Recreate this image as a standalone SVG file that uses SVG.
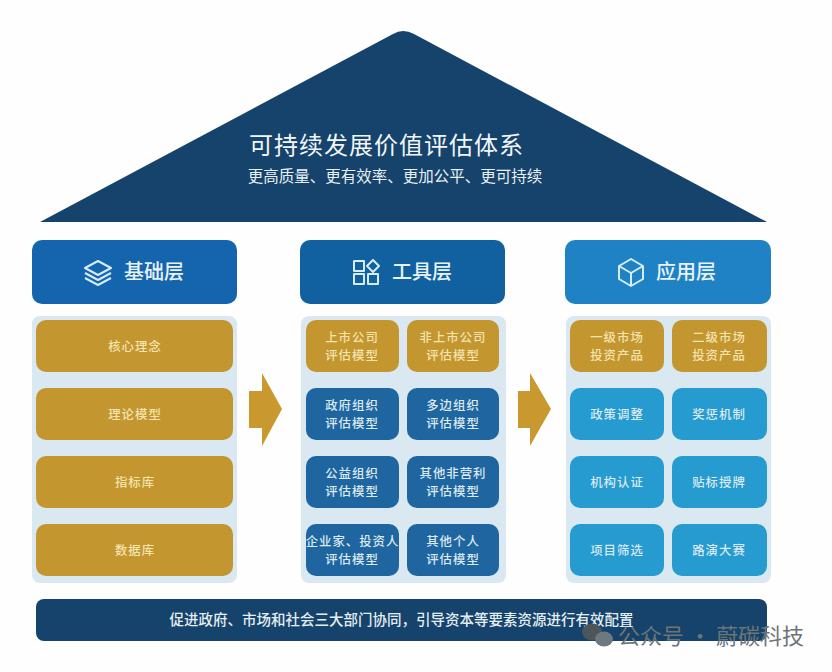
<svg xmlns="http://www.w3.org/2000/svg" width="832" height="672" viewBox="0 0 832 672">
<style>
text{font-family:"Noto Sans CJK SC","Noto Sans",sans-serif;text-anchor:middle}
.g{fill:#c4962f}.d{fill:#1f659f}.l{fill:#259bcf}
.t{fill:#f3e3b0;font-size:12.4px;letter-spacing:1px;font-weight:500}.u{fill:#dbe9f2;font-size:12.4px;letter-spacing:1px;font-weight:500}
.h{fill:#e8f3f8;font-size:20px;font-weight:500;text-anchor:start}
.p{fill:#d9e8f1}
.i{fill:none;stroke:#d6edf5;stroke-width:2;stroke-linejoin:round}
.a{fill:#c9992f}
</style>
<rect width="832" height="672" fill="#fefefe"/>
<g id="roof">
<path d="M40 222 L393 34 Q403 28 414 34 L767 222 Z" fill="#15436b"/>
<text x="386.500" y="154" font-size="24" fill="#f2f6f8" letter-spacing="1">可持续发展价值评估体系</text>
<text x="395" y="182" font-size="15.500" fill="#e8eff3">更高质量、更有效率、更加公平、更可持续</text>
</g>
<g id="panels">
<rect class="p" x="32" y="316" width="205" height="267" rx="8"/>
<rect class="p" x="301" y="316" width="205" height="267" rx="8"/>
<rect class="p" x="566" y="316" width="205" height="267" rx="8"/>
</g>
<g id="header-foundation">
<rect x="32" y="240" width="205" height="64" rx="10" fill="#1465ae"/>
<g class="i" stroke-width="1.8"><path d="M98 261 L111 268 L98 275 L85 268 Z"/><path d="M85 273 L98 280 L111 273"/><path d="M85 278 L98 285 L111 278"/></g>
<text class="h" x="124" y="279">基础层</text>
</g>
<g id="header-tools">
<rect x="300" y="240" width="205" height="64" rx="10" fill="#11609f"/>
<g class="i"><rect x="354" y="261" width="10" height="10"/><path d="M373 260 L379 266 L373 272 L367 266 Z"/><rect x="354" y="274" width="10" height="10"/><rect x="368" y="274" width="10" height="10"/></g>
<text class="h" x="392" y="279">工具层</text>
</g>
<g id="header-application">
<rect x="565" y="240" width="206" height="64" rx="10" fill="#1f82c4"/>
<g class="i"><path d="M631 259 L643 266 L643 279 L631 286 L619 279 L619 266 Z"/><path d="M619 266 L631 273 L643 266 M631 273 L631 286"/></g>
<text class="h" x="656" y="279">应用层</text>
</g>
<g id="n-core"><rect class="g" x="36" y="320" width="197" height="52" rx="10"/><text class="t" x="135" y="351">核心理念</text></g>
<g id="n-theory"><rect class="g" x="36" y="388" width="197" height="52" rx="10"/><text class="t" x="135" y="419">理论模型</text></g>
<g id="n-index"><rect class="g" x="36" y="456" width="197" height="52" rx="10"/><text class="t" x="135" y="487">指标库</text></g>
<g id="n-data"><rect class="g" x="36" y="524" width="197" height="52" rx="10"/><text class="t" x="135" y="555">数据库</text></g>
<g id="n-t1"><rect class="g" x="306" y="320" width="93" height="52" rx="10"/><text class="t" x="352" y="342">上市公司</text><text class="t" x="352" y="360">评估模型</text></g>
<g id="n-t2"><rect class="g" x="407" y="320" width="92" height="52" rx="10"/><text class="t" x="453" y="342">非上市公司</text><text class="t" x="453" y="360">评估模型</text></g>
<g id="n-t3"><rect class="d" x="306" y="388" width="93" height="52" rx="10"/><text class="u" x="352" y="410">政府组织</text><text class="u" x="352" y="428">评估模型</text></g>
<g id="n-t4"><rect class="d" x="407" y="388" width="92" height="52" rx="10"/><text class="u" x="453" y="410">多边组织</text><text class="u" x="453" y="428">评估模型</text></g>
<g id="n-t5"><rect class="d" x="306" y="456" width="93" height="52" rx="10"/><text class="u" x="352" y="478">公益组织</text><text class="u" x="352" y="496">评估模型</text></g>
<g id="n-t6"><rect class="d" x="407" y="456" width="92" height="52" rx="10"/><text class="u" x="453" y="478">其他非营利</text><text class="u" x="453" y="496">评估模型</text></g>
<g id="n-t7"><rect class="d" x="306" y="524" width="93" height="52" rx="10"/><text class="u" x="352.500" y="546">企业家、投资人</text><text class="u" x="352" y="564">评估模型</text></g>
<g id="n-t8"><rect class="d" x="407" y="524" width="92" height="52" rx="10"/><text class="u" x="453" y="546">其他个人</text><text class="u" x="453" y="564">评估模型</text></g>
<g id="n-a1"><rect class="g" x="570" y="320" width="94" height="52" rx="10"/><text class="t" x="617" y="342">一级市场</text><text class="t" x="617" y="360">投资产品</text></g>
<g id="n-a2"><rect class="g" x="672" y="320" width="95" height="52" rx="10"/><text class="t" x="719" y="342">二级市场</text><text class="t" x="719" y="360">投资产品</text></g>
<g id="n-a3"><rect class="l" x="570" y="388" width="94" height="52" rx="10"/><text class="u" x="617" y="419">政策调整</text></g>
<g id="n-a4"><rect class="l" x="672" y="388" width="95" height="52" rx="10"/><text class="u" x="719" y="419">奖惩机制</text></g>
<g id="n-a5"><rect class="l" x="570" y="456" width="94" height="52" rx="10"/><text class="u" x="617" y="487">机构认证</text></g>
<g id="n-a6"><rect class="l" x="672" y="456" width="95" height="52" rx="10"/><text class="u" x="719" y="487">贴标授牌</text></g>
<g id="n-a7"><rect class="l" x="570" y="524" width="94" height="52" rx="10"/><text class="u" x="617" y="555">项目筛选</text></g>
<g id="n-a8"><rect class="l" x="672" y="524" width="95" height="52" rx="10"/><text class="u" x="719" y="555">路演大赛</text></g>
<g id="connectors">
<path class="a" d="M249 391 H262 V373 L282 409 L262 446 V428 H249 Z"/>
<path class="a" d="M518 391 H530 V373 L551 409 L530 446 V428 H518 Z"/>
</g>
<g id="bottom-bar">
<rect x="36" y="599" width="731" height="42" rx="8" fill="#15436b"/>
<text x="401.500" y="625" font-size="14.500" font-weight="500" fill="#e4edf2">促进政府、市场和社会三大部门协同，引导资本等要素资源进行有效配置</text>
</g>
<g id="watermark">
<ellipse cx="592" cy="632" rx="10" ry="8.500" fill="#4e565c"/>
<ellipse cx="604" cy="639" rx="9" ry="7.500" fill="#6f787e"/>
<text x="711" y="644" font-size="22" fill="#6d7478">公众号 · 蔚碳科技</text>
</g>
</svg>
